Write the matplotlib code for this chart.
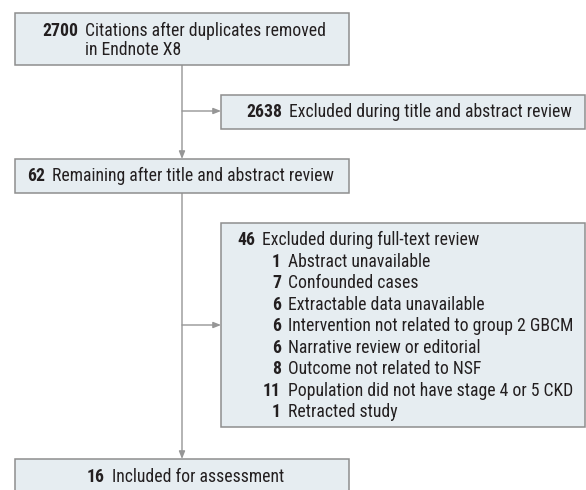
import matplotlib.pyplot as plt
from matplotlib.patches import Rectangle

# flow chart content
box_counts = ["2700", "2638", "62", "46", "16"]
box_labels = [
    "Citations after duplicates removed\nin Endnote X8",
    "Excluded during title and abstract review",
    "Remaining after title and abstract review",
    "Excluded during full-text review",
    "Included for assessment",
]
excl_counts = ["1", "7", "6", "6", "6", "8", "11", "1"]
excl_reasons = [
    "Abstract unavailable",
    "Confounded cases",
    "Extractable data unavailable",
    "Intervention not related to group 2 GBCM",
    "Narrative review or editorial",
    "Outcome not related to NSF",
    "Population did not have stage 4 or 5 CKD",
    "Retracted study",
]

plt.rcParams['font.family'] = ['Roboto Condensed', 'Fira Sans Condensed',
                               'Liberation Sans', 'DejaVu Sans']

FILL = '#e6edf1'
EDGE = '#8e8e8e'
LINE = '#969696'
TXT = '#231f20'
FS = 12.7

fig = plt.figure(figsize=(5.86, 4.90), dpi=100)
ax = fig.add_axes([0, 0, 1, 1])
ax.set_xlim(0, 586)
ax.set_ylim(490, 0)
ax.axis('off')

# box geometry: x0, y0, x1, y1, number right edge, text y
boxes = [
    (15, 13, 349, 65, 78, 31),
    (221, 95, 585, 129, 282, 112),
    (15, 159, 349, 193, 45, 176),
    (221, 223, 585, 427, 255, 240),
    (15, 459, 349, 500, 105, 477),
]

for (x0, y0, x1, y1, nx, ty), cnt, lab in zip(boxes, box_counts, box_labels):
    ax.add_patch(Rectangle((x0, y0), x1 - x0, y1 - y0, facecolor=FILL,
                           edgecolor=EDGE, lw=1.1, zorder=2))
    ax.text(nx, ty, cnt, ha='right', va='center', fontsize=FS,
            fontweight='bold', color=TXT, zorder=3)
    lines = lab.split('\n')
    for i, ln in enumerate(lines):
        ax.text(nx + 7, ty + i * 19, ln, ha='left', va='center',
                fontsize=FS, color=TXT, zorder=3)

# sub items of the full-text exclusions
row_h = 21.5
for i, (cnt, reason) in enumerate(zip(excl_counts, excl_reasons)):
    y = 240 + (i + 1) * row_h
    ax.text(281, y, cnt, ha='right', va='center', fontsize=FS,
            fontweight='bold', color=TXT, zorder=3)
    ax.text(288, y, reason, ha='left', va='center', fontsize=FS,
            color=TXT, zorder=3)


def arrow(x0, y0, x1, y1):
    ax.annotate('', xy=(x1, y1), xytext=(x0, y0), zorder=1,
                arrowprops=dict(arrowstyle='-|>,head_length=0.45,head_width=0.18',
                                color=LINE, lw=1.0, shrinkA=0, shrinkB=0))


arrow(182, 65, 182, 159)
arrow(182, 111, 221, 111)
arrow(182, 193, 182, 459)
arrow(182, 325, 221, 325)

fig.savefig('out.png', dpi=100, facecolor='white')
